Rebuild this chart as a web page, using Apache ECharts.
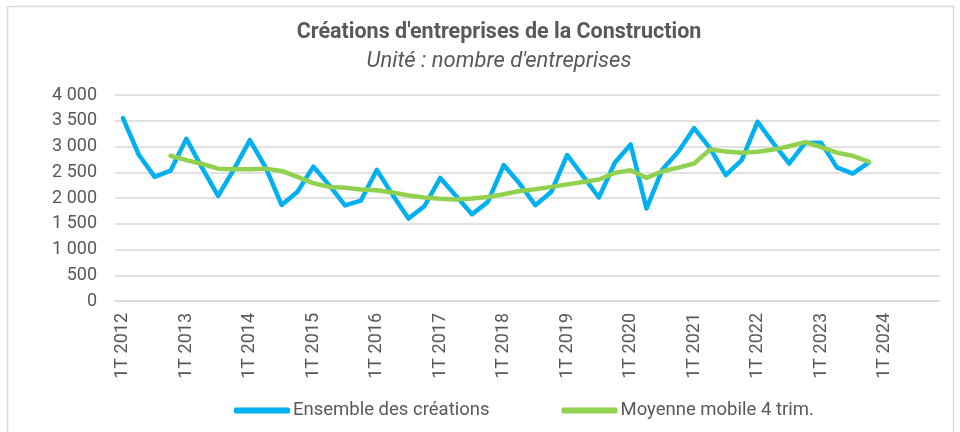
<!DOCTYPE html>
<html>
<head>
<meta charset="utf-8">
<script src="https://cdn.jsdelivr.net/npm/echarts@6/dist/echarts.min.js"></script>
<style>
  html, body { margin: 0; padding: 0; background: #fff; }
  #chart { width: 960px; height: 432px; }
</style>
</head>
<body>
<div id="chart"></div>
<script>
// Quarters 1T 2012 .. 4T 2024
const years = [2012, 2013, 2014, 2015, 2016, 2017, 2018, 2019, 2020, 2021, 2022, 2023, 2024];
const quarters = ['1T', '2T', '3T', '4T'];
const categories = [];
years.forEach(y => quarters.forEach(q => categories.push(q + ' ' + y)));

// Quarterly business creations (1T 2012 .. 4T 2023)
const creations = [
  3550, 2840, 2410, 2530, 3150, 2580, 2040, 2560,
  3125, 2590, 1865, 2120, 2610, 2250, 1855, 1950,
  2545, 2060, 1600, 1840, 2390, 2040, 1685, 1925,
  2640, 2280, 1860, 2120, 2835, 2425, 2010, 2685,
  3040, 1795, 2555, 2900, 3355, 2970, 2445, 2735,
  3480, 3060, 2670, 3070, 3075, 2595, 2475, 2685
];

// 4-quarter moving average (first value at 4T 2012)
const movingAvg = [
  null, null, null, 2820, 2735, 2660, 2570, 2560,
  2560, 2570, 2525, 2410, 2290, 2215, 2200, 2165,
  2152, 2107, 2050, 2010, 1985, 1970, 1990, 2020,
  2074, 2135, 2171, 2216, 2265, 2310, 2360, 2488,
  2540, 2390, 2520, 2590, 2670, 2940, 2905, 2879,
  2897, 2940, 3005, 3085, 2990, 2880, 2820, 2705
];

const yTicks = [0, 500, 1000, 1500, 2000, 2500, 3000, 3500, 4000];

const fmt = v => String(v).replace(/\B(?=(\d{3})+(?!\d))/g, ' ');
const textColor = '#595959';
const font = 'Roboto';

const chart = echarts.init(document.getElementById('chart'), null, { renderer: 'canvas' });
chart.setOption({
  animation: false,
  backgroundColor: '#fff',
  textStyle: { fontFamily: font },
  title: {
    text: "Créations d'entreprises de la Construction",
    subtext: "Unité : nombre d'entreprises",
    left: 494,
    textAlign: 'center',
    top: 17,
    itemGap: 6,
    textStyle: { fontFamily: font, fontSize: 21.5, fontWeight: 'bold', color: textColor },
    subtextStyle: { fontFamily: font, fontSize: 22, fontStyle: 'italic', color: textColor }
  },
  graphic: [
    { type: 'rect', silent: true, shape: { x: 7.5, y: 6.5, width: 946, height: 440 },
      style: { fill: 'none', stroke: '#d9d9d9', lineWidth: 1.5 } }
  ],
  legend: {
    bottom: 7,
    left: 229,
    itemWidth: 56,
    itemHeight: 6,
    itemGap: 72,
    icon: 'roundRect',
    textStyle: { fontFamily: font, fontSize: 18.5, color: textColor, padding: [0, 0, 0, -2] },
    data: ['Ensemble des créations', 'Moyenne mobile 4 trim.']
  },
  grid: { left: 115, right: 20, top: 95, bottom: 131, containLabel: false },
  xAxis: {
    type: 'category',
    data: categories,
    boundaryGap: true,
    axisLine: { lineStyle: { color: '#d9d9d9', width: 1.5 } },
    axisTick: { show: false },
    axisLabel: {
      interval: 3,
      rotate: 90,
      margin: 12,
      fontFamily: font,
      fontSize: 18,
      color: textColor
    }
  },
  yAxis: {
    type: 'value',
    min: yTicks[0],
    max: yTicks[yTicks.length - 1],
    interval: 500,
    axisLine: { show: false },
    axisTick: { show: false },
    splitLine: { lineStyle: { color: '#d9d9d9', width: 1.5 } },
    axisLabel: {
      margin: 18,
      fontFamily: font,
      fontSize: 18,
      color: textColor,
      formatter: fmt
    }
  },
  series: [
    {
      name: 'Ensemble des créations',
      type: 'line',
      data: creations,
      symbol: 'none',
      lineStyle: { color: '#00B0F0', width: 4.5, cap: 'round', join: 'round' },
      itemStyle: { color: '#00B0F0' },
      z: 2
    },
    {
      name: 'Moyenne mobile 4 trim.',
      type: 'line',
      data: movingAvg,
      symbol: 'none',
      lineStyle: { color: '#92D050', width: 4.5, cap: 'round', join: 'round' },
      itemStyle: { color: '#92D050' },
      z: 3
    }
  ]
});
</script>
</body>
</html>
